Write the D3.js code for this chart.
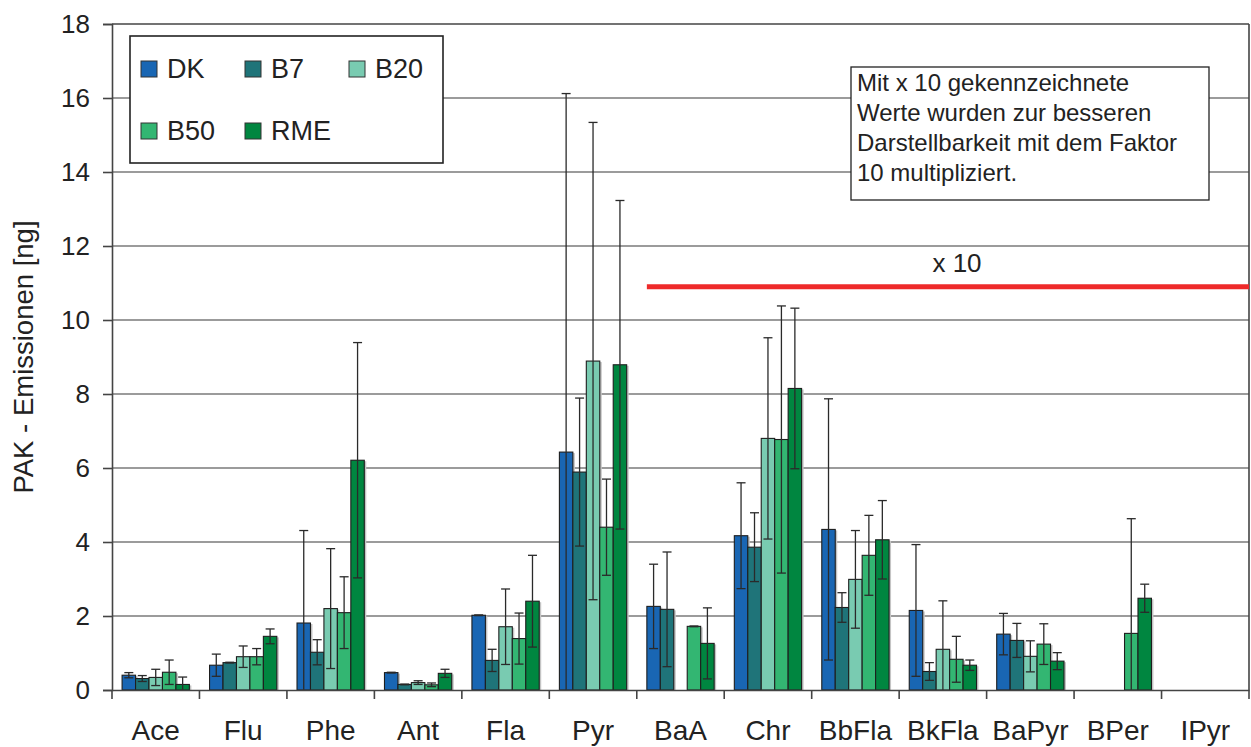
<!DOCTYPE html>
<html>
<head>
<meta charset="utf-8">
<script src="https://cdn.jsdelivr.net/npm/d3@7"></script>
<style>
  html, body { margin: 0; padding: 0; background: #fff; }
  svg { display: block; }
  text { font-family: "Liberation Sans", Arial, Helvetica, sans-serif; fill: #222; }
</style>
</head>
<body>
<svg id="chart" width="1251" height="747"></svg>
<script>
// ---- data ----
const categories = ["Ace","Flu","Phe","Ant","Fla","Pyr","BaA","Chr","BbFla","BkFla","BaPyr","BPer","IPyr"];
const seriesNames = ["DK","B7","B20","B50","RME"];
const seriesColors = ["#1966b3","#1f7479","#79cbb1","#33b672","#008640"];

const valuesDK  = [0.40,0.67,1.81,0.47,2.02,6.43,2.26,4.17,4.34,2.15,1.51,null,null];
const valuesB7  = [0.31,0.74,1.02,0.15,0.80,5.89,2.18,3.86,2.23,0.50,1.34,null,null];
const valuesB20 = [0.34,0.90,2.20,0.20,1.71,8.89,null,6.80,2.99,1.10,0.91,null,null];
const valuesB50 = [0.48,0.90,2.09,0.14,1.39,4.40,1.72,6.77,3.64,0.83,1.24,1.53,null];
const valuesRME = [0.15,1.45,6.21,0.45,2.40,8.79,1.26,8.15,4.06,0.67,0.78,2.48,null];

const errDK  = [0.07,0.30,2.50,0.01,0.01,9.69,1.14,1.43,3.53,1.78,0.56,null,null];
const errB7  = [0.08,0.01,0.34,0.01,0.30,2.00,1.55,0.93,0.40,0.24,0.46,null,null];
const errB20 = [0.22,0.29,1.62,0.05,1.02,6.45,null,2.72,1.32,1.31,0.42,null,null];
const errB50 = [0.33,0.22,0.97,0.05,0.69,1.30,0.01,3.61,1.08,0.62,0.55,3.10,null];
const errRME = [0.20,0.20,3.18,0.11,1.24,4.44,0.96,2.17,1.06,0.14,0.23,0.38,null];

const yTicks = [0,2,4,6,8,10,12,14,16,18];
const yTitle = "PAK - Emissionen [ng]";
const noteLines = ["Mit x 10 gekennzeichnete","Werte wurden zur besseren","Darstellbarkeit mit dem Faktor","10 multipliziert."];
const markerLabel = "x 10";
const markerValue = 10.9;
const markerFrom = "BaA";

const allValues = [valuesDK, valuesB7, valuesB20, valuesB50, valuesRME];
const allErrors = [errDK, errB7, errB20, errB50, errRME];

// ---- layout ----
const svg = d3.select("#chart");
const plotL = 112, plotR = 1249, plotT = 24, plotB = 690;

const x0 = d3.scaleBand().domain(categories).range([plotL, plotR]).padding(0);
const x1 = d3.scaleBand().domain(seriesNames).range([0, x0.bandwidth()]).paddingInner(0).paddingOuter(0.75);
const y = d3.scaleLinear().domain([0, 18]).range([plotB, plotT]);

// gridlines
svg.append("g").selectAll("line").data(yTicks.filter(t => t > 0 && t < 18)).join("line")
  .attr("x1", plotL).attr("x2", plotR)
  .attr("y1", d => y(d)).attr("y2", d => y(d))
  .attr("stroke", "#7a7a7a").attr("stroke-width", 1.6);

// plot frame top/right
svg.append("line").attr("x1", plotL).attr("x2", plotR).attr("y1", y(18)).attr("y2", y(18))
  .attr("stroke", "#444").attr("stroke-width", 1.6);
svg.append("line").attr("x1", plotR).attr("x2", plotR).attr("y1", y(18)).attr("y2", y(0))
  .attr("stroke", "#444").attr("stroke-width", 1.6);

// bars
const barData = [];
seriesNames.forEach((s, si) => {
  categories.forEach((c, ci) => {
    const v = allValues[si][ci];
    if (v != null) barData.push({ s, si, c, v, e: allErrors[si][ci] });
  });
});

const gBars = svg.append("g");
gBars.selectAll("rect.shadow").data(barData).join("rect").attr("class", "shadow")
  .attr("x", d => x0(d.c) + x1(d.s) + 2)
  .attr("y", d => y(d.v) + 1)
  .attr("width", x1.bandwidth())
  .attr("height", d => y(0) - y(d.v) - 1)
  .attr("fill", "#c4c4c4");
gBars.selectAll("rect.bar").data(barData).join("rect").attr("class", "bar")
  .attr("x", d => x0(d.c) + x1(d.s))
  .attr("y", d => y(d.v))
  .attr("width", x1.bandwidth())
  .attr("height", d => y(0) - y(d.v))
  .attr("fill", d => seriesColors[d.si])
  .attr("stroke", "#1e1e1e").attr("stroke-width", 1.1);

// error bars
const gErr = svg.append("g").attr("stroke", "#2a2a2a").attr("stroke-width", 1.3);
const capW = 9;
barData.filter(d => d.e != null && d.e > 0).forEach(d => {
  const cx = x0(d.c) + x1(d.s) + x1.bandwidth() / 2;
  const hi = d.v + d.e, lo = d.v - d.e;
  const loC = Math.max(lo, 0);
  gErr.append("line").attr("x1", cx).attr("x2", cx).attr("y1", y(hi)).attr("y2", y(loC));
  gErr.append("line").attr("x1", cx - capW / 2).attr("x2", cx + capW / 2).attr("y1", y(hi)).attr("y2", y(hi));
  if (lo > 0) {
    gErr.append("line").attr("x1", cx - capW / 2).attr("x2", cx + capW / 2).attr("y1", y(lo)).attr("y2", y(lo));
  }
});

// y axis
const yAxis = d3.axisLeft(y).tickValues(yTicks).tickSize(9).tickPadding(13).tickFormat(d3.format("d"));
const gy = svg.append("g").attr("transform", `translate(${plotL},0)`).call(yAxis);
gy.select(".domain").attr("stroke", "#444").attr("stroke-width", 1.6);
gy.selectAll(".tick line").attr("stroke", "#444").attr("stroke-width", 1.6);
gy.selectAll(".tick text").attr("font-size", 26).attr("fill", "#222")
  .attr("font-family", "Liberation Sans, Arial, sans-serif");

// x axis
const xAxis = d3.axisBottom(x0).tickSize(0).tickPadding(30);
const gx = svg.append("g").attr("transform", `translate(0,${plotB})`).call(xAxis);
gx.select(".domain").attr("stroke", "#444").attr("stroke-width", 1.6);
gx.selectAll(".tick text").attr("font-size", 28).attr("fill", "#222")
  .attr("font-family", "Liberation Sans, Arial, sans-serif").attr("dy", "0.71em");
const bounds = categories.map(c => x0(c)).concat([plotR]);
svg.append("g").selectAll("line").data(bounds).join("line")
  .attr("x1", d => d).attr("x2", d => d).attr("y1", plotB).attr("y2", plotB + 9)
  .attr("stroke", "#444").attr("stroke-width", 1.6);

// y title
svg.append("text").attr("transform", `translate(33,${(plotT + plotB) / 2}) rotate(-90)`)
  .attr("text-anchor", "middle").attr("font-size", 27.5).text(yTitle);

// red marker line (starts at the first bar of its group)
svg.append("line").attr("x1", x0(markerFrom) + x1(seriesNames[0])).attr("x2", plotR)
  .attr("y1", y(markerValue)).attr("y2", y(markerValue))
  .attr("stroke", "#ee2a2a").attr("stroke-width", 5);
svg.append("text").attr("x", 957).attr("y", 272).attr("text-anchor", "middle")
  .attr("font-size", 26).text(markerLabel);

// legend
const lg = svg.append("g");
lg.append("rect").attr("x", 130).attr("y", 36).attr("width", 313).attr("height", 127)
  .attr("fill", "#fff").attr("stroke", "#222").attr("stroke-width", 1.6);
const legPos = [[141, 61], [245, 61], [349, 61], [141, 123], [245, 123]];
seriesNames.forEach((s, i) => {
  const [lx, ly] = legPos[i];
  lg.append("rect").attr("x", lx).attr("y", ly).attr("width", 16).attr("height", 16)
    .attr("fill", seriesColors[i]).attr("stroke", "#333").attr("stroke-width", 1);
  lg.append("text").attr("x", lx + 26).attr("y", ly + 17).attr("font-size", 27).text(s);
});

// note box
const nb = svg.append("g");
nb.append("rect").attr("x", 851).attr("y", 67).attr("width", 358).attr("height", 133)
  .attr("fill", "#fff").attr("stroke", "#222").attr("stroke-width", 1.3);
noteLines.forEach((t, i) => {
  nb.append("text").attr("x", 857).attr("y", 91 + i * 30).attr("font-size", 24).text(t);
});
</script>
</body>
</html>
